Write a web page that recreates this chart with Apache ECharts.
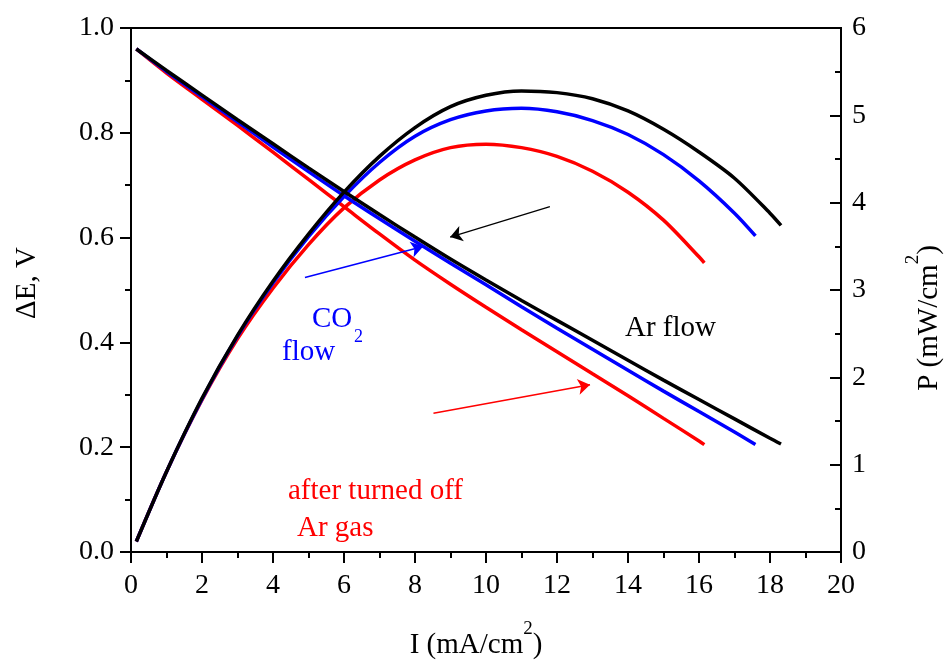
<!DOCTYPE html>
<html>
<head>
<meta charset="utf-8">
<script src="https://cdn.jsdelivr.net/npm/echarts@6/dist/echarts.min.js"></script>
<style>
  html, body { margin: 0; padding: 0; background: #fff; }
  #chart { width: 949px; height: 660px; }
</style>
</head>
<body>
<div id="chart"></div>
<script>
// Current density (mA/cm2), cell voltage (V) and power density (mW/cm2)
const arCurrent  = [0.15, 1, 2, 3, 4, 5, 6, 7, 8, 9, 10, 11, 12, 13, 14, 15, 16, 17, 18, 18.31];
const arVoltage  = [0.960, 0.919, 0.872, 0.825, 0.779, 0.733, 0.688, 0.644, 0.601, 0.559, 0.519, 0.480, 0.442, 0.404, 0.366, 0.328, 0.291, 0.254, 0.217, 0.206];
const arPower    = [0.12, 0.92, 1.76, 2.48, 3.10, 3.64, 4.12, 4.53, 4.86, 5.10, 5.23, 5.28, 5.26, 5.19, 5.05, 4.84, 4.58, 4.28, 3.88, 3.74];

const co2Current = [0.15, 1, 2, 3, 4, 5, 6, 7, 8, 9, 10, 11, 12, 13, 14, 15, 16, 17, 17.59];
const co2Voltage = [0.960, 0.917, 0.869, 0.821, 0.773, 0.726, 0.680, 0.636, 0.593, 0.551, 0.510, 0.468, 0.427, 0.387, 0.347, 0.307, 0.268, 0.229, 0.205];
const co2Power   = [0.12, 0.92, 1.75, 2.47, 3.08, 3.61, 4.07, 4.46, 4.76, 4.95, 5.05, 5.08, 5.04, 4.94, 4.78, 4.55, 4.25, 3.88, 3.62];

const offCurrent = [0.15, 1, 2, 3, 4, 5, 6, 7, 8, 9, 10, 11, 12, 13, 14, 15, 16, 16.15];
const offVoltage = [0.960, 0.914, 0.864, 0.814, 0.763, 0.711, 0.659, 0.607, 0.557, 0.511, 0.467, 0.424, 0.382, 0.340, 0.298, 0.255, 0.212, 0.205];
const offPower   = [0.12, 0.92, 1.74, 2.44, 3.02, 3.52, 3.94, 4.26, 4.49, 4.63, 4.67, 4.63, 4.53, 4.36, 4.12, 3.80, 3.38, 3.31];

// Arrows pointing from the annotations to the curves: [I, ΔE] start and end
const arArrow  = [[11.80, 0.659], [8.99, 0.601]];
const co2Arrow = [[4.90, 0.524], [8.23, 0.583]];
const offArrow = [[8.52, 0.265], [12.93, 0.319]];

const xTicks = { min: 0, max: 20, step: 2 };
const leftTicks = { min: 0, max: 1, step: 0.2 };
const rightTicks = { min: 0, max: 6, step: 1 };

const FONT = '"Liberation Serif", "Times New Roman", serif';
const BLACK = '#000000', BLUE = '#0000ff', RED = '#ff0000';

const pairs = (xs, ys) => xs.map((x, i) => [x, ys[i]]);

function curve(name, xs, ys, color, yAxisIndex) {
  return {
    name, type: 'line', yAxisIndex,
    data: pairs(xs, ys),
    smooth: 0.3,
    showSymbol: false,
    lineStyle: { color, width: 3.5 },
    itemStyle: { color },
    z: color === BLACK ? 4 : (color === BLUE ? 3 : 2),
    animation: false
  };
}

function arrow(seg, color, width) {
  return [
    { coord: seg[0], symbol: 'none', lineStyle: { color, width, type: 'solid' } },
    { coord: seg[1], symbol: 'arrow', symbolSize: 12 }
  ];
}

const axisText = { color: BLACK, fontFamily: FONT, fontSize: 28 };
const tickLine = { color: BLACK, width: 2 };

const chart = echarts.init(document.getElementById('chart'), null, { renderer: 'canvas' });

chart.setOption({
  backgroundColor: '#ffffff',
  animation: false,
  grid: {
    left: 131, right: 108, top: 28, bottom: 108,
    show: true, borderColor: BLACK, borderWidth: 2, backgroundColor: 'transparent'
  },
  xAxis: {
    type: 'value', min: xTicks.min, max: xTicks.max, interval: xTicks.step,
    axisLine: { show: true, lineStyle: tickLine },
    axisTick: { show: true, length: 11, lineStyle: tickLine },
    minorTick: { show: true, splitNumber: 2, length: 6, lineStyle: tickLine },
    axisLabel: Object.assign({ margin: 20 }, axisText),
    splitLine: { show: false }
  },
  yAxis: [
    {
      type: 'value', min: leftTicks.min, max: leftTicks.max, interval: leftTicks.step,
      axisLine: { show: true, lineStyle: tickLine },
      axisTick: { show: true, length: 11, lineStyle: tickLine },
      minorTick: { show: true, splitNumber: 2, length: 6, lineStyle: tickLine },
      axisLabel: Object.assign({ margin: 17, formatter: v => v.toFixed(1) }, axisText),
      splitLine: { show: false }
    },
    {
      type: 'value', position: 'right', min: rightTicks.min, max: rightTicks.max, interval: rightTicks.step,
      axisLine: { show: true, lineStyle: tickLine },
      axisTick: { show: true, inside: true, length: 11, lineStyle: tickLine },
      minorTick: { show: true, splitNumber: 2, length: 6, lineStyle: tickLine },
      axisLabel: Object.assign({ margin: 11 }, axisText),
      splitLine: { show: false }
    }
  ],
  series: [
    Object.assign(curve('Ar flow ΔE', arCurrent, arVoltage, BLACK, 0), {
      markLine: {
        silent: true, animation: false,
        label: { show: false },
        symbolSize: 12,
        data: [arrow(arArrow, BLACK, 1.3), arrow(co2Arrow, BLUE, 1.5), arrow(offArrow, RED, 1.5)]
      }
    }),
    curve('CO2 flow ΔE', co2Current, co2Voltage, BLUE, 0),
    curve('after Ar off ΔE', offCurrent, offVoltage, RED, 0),
    curve('Ar flow P', arCurrent, arPower, BLACK, 1),
    curve('CO2 flow P', co2Current, co2Power, BLUE, 1),
    curve('after Ar off P', offCurrent, offPower, RED, 1)
  ],
  graphic: [
    // axis titles
    {
      type: 'text', x: 476, y: 640,
      style: {
        x: 0, y: 0, align: 'center', verticalAlign: 'middle',
        text: '{m|I (mA/cm}{s|2}{m|)}',
        rich: {
          m: { fontFamily: FONT, fontSize: 29, color: BLACK, lineHeight: 40, verticalAlign: 'bottom' },
          s: { fontFamily: FONT, fontSize: 19, color: BLACK, lineHeight: 20, verticalAlign: 'top' }
        }
      }
    },
    {
      type: 'text', x: 27, y: 283, rotation: Math.PI / 2,
      style: {
        x: 0, y: 0, align: 'center', verticalAlign: 'middle',
        text: 'ΔE, V', fontFamily: FONT, fontSize: 29, fill: BLACK
      }
    },
    {
      type: 'text', x: 924, y: 318, rotation: Math.PI / 2,
      style: {
        x: 0, y: 0, align: 'center', verticalAlign: 'middle',
        text: '{m|P (mW/cm}{s|2}{m|)}',
        rich: {
          m: { fontFamily: FONT, fontSize: 29, color: BLACK, lineHeight: 40, verticalAlign: 'bottom' },
          s: { fontFamily: FONT, fontSize: 19, color: BLACK, lineHeight: 20, verticalAlign: 'top' }
        }
      }
    },
    // curve annotations
    { type: 'text', style: { x: 312, y: 319, verticalAlign: 'middle', text: 'CO', fontFamily: FONT, fontSize: 29, fill: BLUE } },
    { type: 'text', style: { x: 354, y: 337, verticalAlign: 'middle', text: '2', fontFamily: FONT, fontSize: 18, fill: BLUE } },
    { type: 'text', style: { x: 282, y: 352, verticalAlign: 'middle', text: 'flow', fontFamily: FONT, fontSize: 29, fill: BLUE } },
    { type: 'text', style: { x: 625, y: 328, verticalAlign: 'middle', text: 'Ar flow', fontFamily: FONT, fontSize: 29, fill: BLACK } },
    { type: 'text', style: { x: 288, y: 491, verticalAlign: 'middle', text: 'after turned off', fontFamily: FONT, fontSize: 29, fill: RED } },
    { type: 'text', style: { x: 297, y: 528, verticalAlign: 'middle', text: 'Ar gas', fontFamily: FONT, fontSize: 29, fill: RED } }
  ]
});
</script>
</body>
</html>
